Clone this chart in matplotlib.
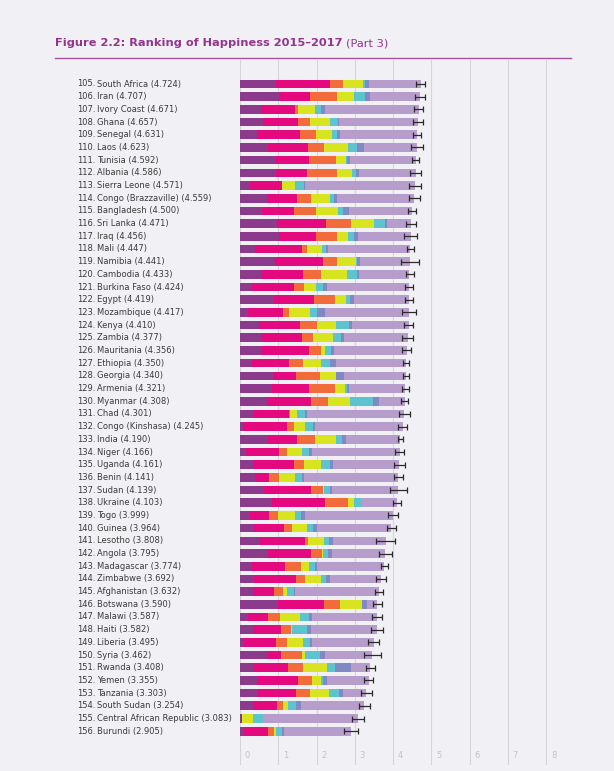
import matplotlib.pyplot as plt
from matplotlib.transforms import blended_transform_factory

ranks = list(range(105, 157))

countries = [
    "South Africa", "Iran", "Ivory Coast", "Ghana", "Senegal", "Laos",
    "Tunisia", "Albania", "Sierra Leone", "Congo (Brazzaville)", "Bangladesh",
    "Sri Lanka", "Iraq", "Mali", "Namibia", "Cambodia", "Burkina Faso",
    "Egypt", "Mozambique", "Kenya", "Zambia", "Mauritania", "Ethiopia",
    "Georgia", "Armenia", "Myanmar", "Chad", "Congo (Kinshasa)", "India",
    "Niger", "Uganda", "Benin", "Sudan", "Ukraine", "Togo", "Guinea",
    "Lesotho", "Angola", "Madagascar", "Zimbabwe", "Afghanistan", "Botswana",
    "Malawi", "Haiti", "Liberia", "Syria", "Rwanda", "Yemen", "Tanzania",
    "South Sudan", "Central African Republic", "Burundi",
]

scores = [
    4.724, 4.707, 4.671, 4.657, 4.631, 4.623, 4.592, 4.586, 4.571, 4.559,
    4.500, 4.471, 4.456, 4.447, 4.441, 4.433, 4.424, 4.419, 4.417, 4.410,
    4.377, 4.356, 4.350, 4.340, 4.321, 4.308, 4.301, 4.245, 4.190, 4.166,
    4.161, 4.141, 4.139, 4.103, 3.999, 3.964, 3.808, 3.795, 3.774, 3.692,
    3.632, 3.590, 3.587, 3.582, 3.495, 3.462, 3.408, 3.355, 3.303, 3.254,
    3.083, 2.905,
]

gdp = [
    0.94, 1.03, 0.55, 0.59, 0.44, 0.74, 0.92, 0.94, 0.26, 0.70,
    0.57, 0.96, 1.01, 0.40, 0.92, 0.55, 0.31, 0.90, 0.20, 0.49,
    0.58, 0.58, 0.31, 0.85, 0.84, 0.70, 0.36, 0.07, 0.73, 0.16,
    0.35, 0.39, 0.63, 0.83, 0.26, 0.37, 0.51, 0.74, 0.31, 0.37,
    0.34, 1.00, 0.22, 0.35, 0.10, 0.71, 0.33, 0.44, 0.47, 0.35,
    0.03, 0.10,
]

social = [
    1.41, 0.80, 0.89, 0.93, 1.13, 1.04, 0.88, 0.81, 0.83, 0.79,
    0.83, 1.29, 0.98, 1.22, 1.26, 1.10, 1.10, 1.04, 0.92, 1.08,
    1.05, 1.23, 0.98, 0.62, 0.97, 1.16, 0.92, 1.16, 0.76, 0.85,
    1.06, 0.37, 1.23, 1.39, 0.50, 0.78, 1.19, 1.12, 0.87, 1.10,
    0.55, 1.19, 0.51, 0.71, 0.84, 0.37, 0.92, 1.08, 0.99, 0.62,
    0.03, 0.63,
]

health = [
    0.33, 0.70, 0.08, 0.31, 0.42, 0.42, 0.71, 0.78, 0.01, 0.36,
    0.59, 0.65, 0.54, 0.12, 0.35, 0.46, 0.26, 0.55, 0.16, 0.44,
    0.29, 0.31, 0.37, 0.63, 0.68, 0.44, 0.04, 0.17, 0.48, 0.22,
    0.26, 0.26, 0.31, 0.60, 0.24, 0.21, 0.07, 0.29, 0.42, 0.24,
    0.24, 0.42, 0.31, 0.28, 0.29, 0.55, 0.39, 0.37, 0.37, 0.16,
    0.00, 0.16,
]

freedom = [
    0.53, 0.46, 0.44, 0.52, 0.42, 0.63, 0.27, 0.41, 0.34, 0.51,
    0.58, 0.60, 0.29, 0.40, 0.51, 0.69, 0.31, 0.29, 0.56, 0.50,
    0.51, 0.10, 0.47, 0.40, 0.26, 0.58, 0.18, 0.31, 0.54, 0.39,
    0.44, 0.42, 0.03, 0.16, 0.44, 0.39, 0.43, 0.03, 0.21, 0.42,
    0.10, 0.57, 0.52, 0.03, 0.42, 0.07, 0.63, 0.24, 0.50, 0.13,
    0.29, 0.05,
]

generosity = [
    0.07, 0.27, 0.15, 0.22, 0.13, 0.23, 0.02, 0.09, 0.24, 0.10,
    0.12, 0.28, 0.17, 0.12, 0.01, 0.26, 0.19, 0.10, 0.18, 0.35,
    0.22, 0.17, 0.21, 0.01, 0.04, 0.60, 0.19, 0.21, 0.16, 0.18,
    0.24, 0.18, 0.14, 0.21, 0.16, 0.17, 0.13, 0.13, 0.15, 0.12,
    0.18, 0.02, 0.24, 0.39, 0.18, 0.40, 0.22, 0.05, 0.26, 0.21,
    0.24, 0.16,
]

corruption = [
    0.08, 0.13, 0.10, 0.02, 0.08, 0.19, 0.07, 0.09, 0.03, 0.07,
    0.16, 0.06, 0.10, 0.05, 0.10, 0.05, 0.10, 0.10, 0.19, 0.07,
    0.06, 0.07, 0.16, 0.22, 0.05, 0.15, 0.06, 0.05, 0.09, 0.07,
    0.09, 0.05, 0.07, 0.01, 0.10, 0.10, 0.10, 0.10, 0.06, 0.11,
    0.03, 0.11, 0.07, 0.10, 0.05, 0.12, 0.41, 0.10, 0.10, 0.13,
    0.02, 0.05,
]

dystopia = [
    1.36, 1.32, 2.46, 2.07, 2.01, 1.37, 1.72, 1.47, 2.86, 2.03,
    1.65, 0.63, 1.37, 2.14, 1.29, 1.32, 2.15, 1.44, 2.21, 1.48,
    1.67, 1.90, 1.85, 1.61, 1.48, 0.68, 2.55, 2.28, 1.43, 2.30,
    1.72, 2.47, 1.73, 0.90, 2.30, 1.94, 1.38, 1.39, 1.75, 1.33,
    2.19, 0.28, 1.72, 1.72, 1.62, 1.24, 0.51, 1.08, 0.61, 1.65,
    2.47, 1.76,
]

ci_half = [
    0.12, 0.125, 0.12, 0.125, 0.10, 0.165, 0.10, 0.135, 0.165, 0.145,
    0.105, 0.135, 0.16, 0.09, 0.23, 0.105, 0.105, 0.095, 0.18, 0.11,
    0.14, 0.11, 0.08, 0.09, 0.095, 0.09, 0.135, 0.11, 0.06, 0.11,
    0.14, 0.115, 0.22, 0.105, 0.125, 0.12, 0.25, 0.17, 0.10, 0.125,
    0.10, 0.12, 0.125, 0.15, 0.15, 0.22, 0.115, 0.11, 0.135, 0.145,
    0.155, 0.18,
]

segments = [gdp, social, health, freedom, generosity, corruption, dystopia]
colors = ["#8b3a8c", "#e5097f", "#f26b3a", "#d8e41f",
          "#5cc3cf", "#7f89c3", "#b79dcc"]

bg = "#f1f0f4"
W, H = 614, 771

fig = plt.figure(figsize=(W / 100, H / 100), dpi=100, facecolor=bg)

# axes placed in pixel terms: x=0 at 240px, 38.25px per unit
ax_left, ax_top, ax_bottom = 240, 60, 765
xmax = 8.5
ax_w = xmax * 38.25
ax = fig.add_axes([ax_left / W, 1 - ax_bottom / H, ax_w / W, (ax_bottom - ax_top) / H])
ax.set_facecolor(bg)

row0, step = 84, 12.69
ax.set_xlim(0, xmax)
ax.set_ylim((ax_bottom - row0) / step, (ax_top - row0) / step)

for k in range(9):
    ax.axvline(k, color="#d6d5da", lw=0.8, zorder=0)
    ax.text(k + 0.13, (755 - row0) / step, str(k), fontsize=6,
            color="#c4c3c8", va="center", ha="left")

y = list(range(len(countries)))
left = [0.0] * len(y)
for vals, c in zip(segments, colors):
    ax.barh(y, vals, left=left, height=0.68, color=c, lw=0, zorder=2)
    left = [a + b for a, b in zip(left, vals)]

ax.errorbar(scores, y, xerr=ci_half, fmt="none", ecolor="#2a2a2a",
            elinewidth=0.9, capsize=2.2, capthick=0.9, zorder=3)

for s in ax.spines.values():
    s.set_visible(False)
ax.set_xticks([])
ax.set_yticks([])

# country labels
tr = blended_transform_factory(fig.transFigure, ax.transData)
for i, (r, name, sc) in enumerate(zip(ranks, countries, scores)):
    ax.text(77 / W, i, f"{r}.", transform=tr, fontsize=6, color="#3b3b3b",
            va="center", ha="left")
    ax.text(97 / W, i, f"{name} ({sc:.3f})", transform=tr, fontsize=6,
            color="#3b3b3b", va="center", ha="left")

# title and rule
title_color = "#93348e"
t = fig.text(55 / W, 1 - 43 / H, "Figure 2.2: Ranking of Happiness 2015\u20132017",
             fontsize=8.2, fontweight="bold", color=title_color, va="center")
fig.canvas.draw()
bb = t.get_window_extent()
fig.text(bb.x1 / W + 3 / W, 1 - 43 / H, "(Part 3)", fontsize=8.2,
         color=title_color, va="center")
fig.add_artist(plt.Line2D([55 / W, 571 / W], [1 - 58 / H, 1 - 58 / H],
                          color="#a4529c", lw=1.0))

fig.savefig("out.png", dpi=100, facecolor=bg)
